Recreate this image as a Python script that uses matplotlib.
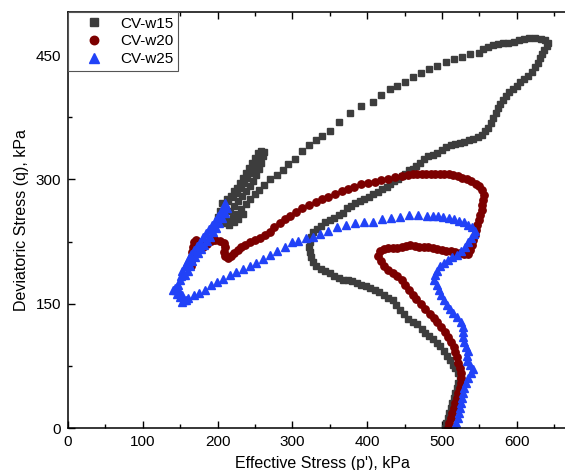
import matplotlib
matplotlib.use("Agg")
import matplotlib.pyplot as plt
from matplotlib.ticker import MultipleLocator

# CV-w15 (p', q) in kPa
w15_p = [504, 506, 508, 510, 512, 514, 516, 518, 520, 522, 524,
         522, 518, 515, 511, 507, 503, 498, 493, 488, 483, 478, 473, 467, 461, 455,
         449, 444, 439, 434, 428, 422, 416, 410, 404, 398, 392, 386, 380, 374, 368,
         362, 356, 350, 344, 338, 332, 328, 325, 323, 322, 323, 325, 328, 333, 338,
         344, 350, 356, 362, 368, 373, 378, 384, 390, 396, 402, 408, 414, 420, 426,
         431, 436, 441, 446, 451, 456, 461, 466, 471, 476, 482, 488, 494, 500, 506,
         512, 518, 524, 530, 536, 542, 548, 553, 557, 561, 565, 569, 572, 575, 578,
         582, 586, 590, 595, 600, 605, 610, 615, 620, 624, 628, 631, 634, 637, 640,
         642, 638, 632, 625, 617, 610, 603, 596, 589, 582, 575, 568, 561, 555, 550,
         538, 527, 516, 505, 494, 483, 472, 461, 450, 440, 430, 418, 408, 392, 377,
         362, 350, 340, 331, 322, 313, 303, 294, 287, 279, 270, 262, 256, 250,
         244, 238, 232, 226, 220, 214, 208, 203, 200, 203, 208, 214, 220, 226, 231,
         236, 240, 244, 248, 251, 254, 257, 258, 254, 250, 246, 242, 238, 234, 230,
         226, 222, 218, 212, 206,
         215, 222, 228, 234, 210, 216, 222, 228, 233, 238, 243, 247, 251, 255, 258,
         261, 262]
w15_q = [0, 6, 12, 18, 24, 30, 36, 42, 48, 54, 60,
         66, 72, 76, 82, 87, 93, 99, 103, 107, 111, 115, 120, 125, 128, 132,
         137, 142, 148, 154, 157, 160, 164, 167, 169, 171, 173, 175, 177, 178, 179,
         181, 184, 187, 189, 192, 196, 200, 206, 212, 218, 224, 230, 236, 240, 244,
         248, 251, 254, 257, 260, 265, 268, 271, 274, 276, 279, 282, 285, 288, 291,
         295, 298, 301, 304, 307, 311, 313, 316, 320, 325, 328, 330, 332, 335, 339,
         341, 343, 344, 345, 347, 349, 351, 354, 358, 362, 368, 374, 380, 386, 391,
         396, 401, 405, 409, 413, 417, 421, 425, 430, 436, 441, 446, 451, 456, 461,
         465, 468, 470, 471, 471, 469, 468, 466, 465, 464, 463, 462, 460, 457, 453,
         451, 448, 445, 442, 437, 433, 428, 423, 418, 413, 409, 402, 393, 389, 380,
         369, 358, 352, 347, 342, 334, 325, 318, 311, 305, 301, 293, 287, 282,
         276, 270, 264, 258, 254, 250, 247, 250, 255, 262, 268, 274, 279, 284, 290,
         296, 302, 308, 314, 320, 326, 331, 334, 332, 326, 320, 314, 308, 302, 296,
         290, 286, 280, 276, 272,
         245, 248, 252, 258, 258, 262, 268, 274, 280, 286, 292, 298, 305, 312, 320,
         328, 333]

# CV-w20
w20_p = [508, 510, 512, 514, 516, 518, 520, 522, 524, 525, 526,
         525, 524, 522, 520, 518, 516, 512, 508, 504, 499, 494, 489, 484, 478, 472,
         466, 461, 456, 451, 446, 440, 434, 428, 422, 418, 415, 417, 422, 428, 434,
         440, 446, 452, 458, 464, 470, 476, 482, 488, 494, 500, 506, 512, 518, 524,
         530, 535, 538, 540, 542, 544, 546, 547, 549, 551, 553, 554, 555, 556, 554,
         550, 545, 539, 533, 527, 521, 515, 509, 503, 497, 491, 485, 479, 473, 467,
         461, 455,
         446, 437, 428, 419, 410, 401, 392, 383, 374, 366, 357, 348, 340, 331, 322,
         313, 305, 297, 290, 283, 276, 270, 263, 257, 250, 243,
         237, 232, 227, 222, 218, 214, 210, 209, 210, 208, 203, 197, 191, 186, 181,
         176, 171, 168, 167, 166, 166, 165, 165]
w20_q = [0, 6, 12, 18, 24, 30, 36, 42, 48, 54, 60,
         66, 72, 79, 86, 92, 98, 104, 110, 116, 122, 128, 133, 138, 144, 150,
         156, 161, 167, 173, 179, 183, 187, 191, 196, 201, 207, 213, 216, 217, 217,
         217, 218, 220, 221, 220, 219, 219, 218, 217, 216, 215, 214, 213, 212, 211,
         210, 210, 215, 221, 227, 233, 239, 245, 251, 257, 263, 269, 275, 281, 287,
         292, 295, 298, 300, 302, 304, 305, 306, 307, 307, 307, 307, 307, 307, 306,
         306, 305,
         304, 303, 301, 299, 297, 296, 294, 291, 289, 286, 282, 279, 276, 273, 269,
         265, 261, 256, 252, 247, 243, 237, 233, 229, 227, 225,
         221, 218, 215, 211, 207, 205, 207, 212, 218, 223, 226, 227, 226, 222, 219,
         222, 227, 224, 218, 212, 206, 200, 195]

# CV-w25
w25_p = [517, 519, 521, 523, 524, 526, 527, 528, 530, 532, 535, 539, 541, 538,
         534, 534, 535, 532, 529, 528, 528, 528, 525, 520, 515, 511, 507, 503, 499,
         496, 493, 490, 491, 494, 498, 503, 508, 514, 520, 526, 531, 535, 539, 543,
         544, 540, 535, 529, 523, 516, 509, 502, 495, 488,
         480, 468, 456, 444, 432, 420, 408, 396, 384, 372, 360, 348, 337, 327, 318,
         308, 299, 290, 280, 270, 261, 252, 243, 234, 225, 216, 207, 199, 191, 183,
         175, 168, 161, 158, 155, 152, 153, 150, 148, 146, 143, 141, 145, 147, 150,
         151, 153, 156, 159, 162, 165, 168, 172, 176, 180, 184, 188, 192, 196, 200,
         204, 208, 210,
         156, 160, 163, 166, 170, 174, 178, 182, 186, 190, 194, 198, 202, 206, 210,
         213]
w25_q = [0, 6, 12, 18, 24, 30, 36, 42, 48, 54, 60, 66, 71, 76,
         81, 87, 93, 98, 104, 110, 116, 122, 128, 134, 139, 144, 149, 155, 161,
         167, 173, 179, 185, 190, 195, 199, 203, 206, 209, 213, 218, 224, 229, 234,
         238, 242, 245, 248, 250, 252, 253, 255, 256, 256,
         256, 257, 257, 255, 254, 252, 249, 249, 247, 245, 242, 238, 234, 231, 229,
         226, 224, 219, 213, 209, 204, 199, 196, 192, 188, 185, 180, 176, 172, 167,
         163, 160, 157, 154, 155, 152, 160, 158, 165, 162, 169, 166, 166, 172, 178,
         184, 190, 195, 200, 205, 210, 215, 220, 225, 230, 235, 240, 245, 250, 256,
         262, 268, 271,
         185, 190, 196, 201, 206, 211, 216, 221, 226, 231, 236, 241, 247, 253, 259,
         265]

series_names = ["CV-w15", "CV-w20", "CV-w25"]

x_ticks = [0, 100, 200, 300, 400, 500, 600]
y_ticks = [0, 150, 300, 450]

plt.rcParams["font.family"] = ["Liberation Sans", "DejaVu Sans"]
plt.rcParams["font.size"] = 11

fig = plt.figure(figsize=(5.65, 4.7), dpi=100)
ax = fig.add_axes([68 / 565, 42 / 470, 0.900, 416 / 470])

ax.plot(w15_p, w15_q, linestyle="none", marker="s", markersize=4.8,
        color="#3d3d3d", label=series_names[0])
ax.plot(w20_p, w20_q, linestyle="none", marker="o", markersize=5.3,
        color="#7c0000", label=series_names[1])
ax.plot(w25_p, w25_q, linestyle="none", marker="^", markersize=5.9,
        color="#2142f7", label=series_names[2])

ax.set_xlim(0, 680)
ax.set_ylim(0, 502)
ax.set_xticks(x_ticks)
ax.set_yticks(y_ticks)
ax.xaxis.set_minor_locator(MultipleLocator(50))
ax.yaxis.set_minor_locator(MultipleLocator(75))
ax.tick_params(which="both", direction="in", top=True, right=True, width=1)
ax.tick_params(which="major", length=5, labelsize=11, pad=5)
ax.tick_params(which="minor", length=3)
for spine in ax.spines.values():
    spine.set_linewidth(1.1)

ax.set_xlabel("Effective Stress (p'), kPa", fontsize=11.5, labelpad=5)
ax.set_ylabel("Deviatoric Stress (q), kPa", fontsize=11.5, labelpad=5)

leg = ax.legend(loc="upper left", borderaxespad=0, fancybox=False,
                framealpha=1, edgecolor="#555555", fontsize=11,
                handlelength=2.8, handletextpad=0.3, borderpad=0.3,
                labelspacing=0.25, markerscale=1.15)
leg.get_frame().set_linewidth(0.8)

fig.savefig("out.png", dpi=100)
